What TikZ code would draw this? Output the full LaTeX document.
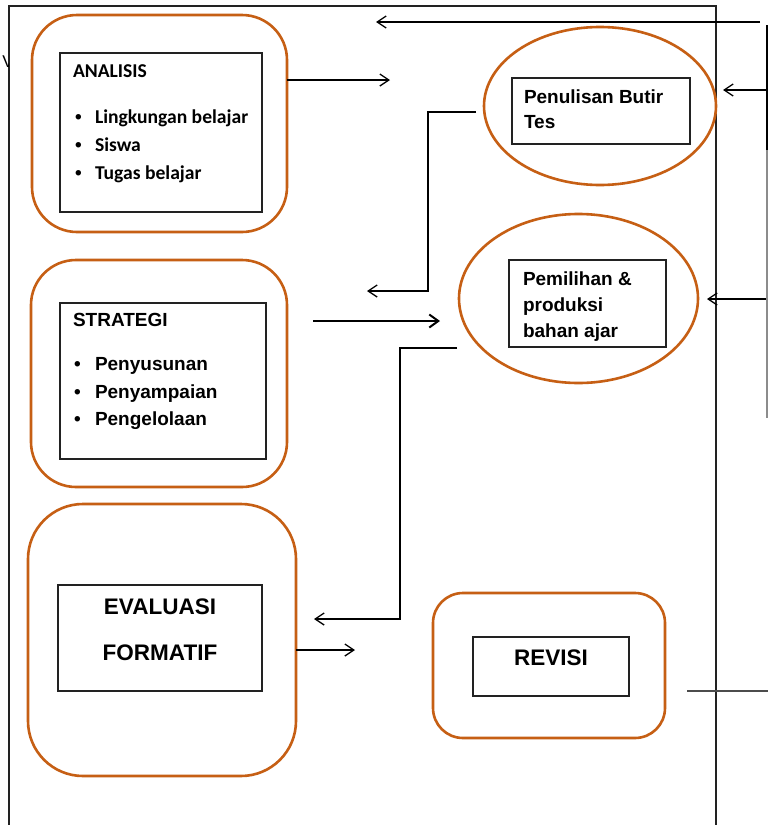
\documentclass[tikz,border=0pt]{standalone}
\usepackage{fontspec}
\setmainfont{Liberation Sans}
\newfontfamily\calib{Carlito}
\usetikzlibrary{arrows.meta,shapes.geometric}
\definecolor{orng}{HTML}{C65F14}
\definecolor{ink}{HTML}{222222}
\tikzset{
  obox/.style={draw=orng, line width=2.6pt, inner sep=0pt, outer sep=0pt},
  oell/.style={ellipse, draw=orng, line width=2.6pt, inner sep=0pt, outer sep=0pt},
  ibox/.style={draw=ink, line width=1.2pt, inner sep=0pt, outer sep=0pt, fill=white},
  frame/.style={draw=ink, line width=1.2pt},
  arr/.style={draw=black, line width=1.3pt, -{Straight Barb[length=9pt,width=12pt]}},
  thickarr/.style={draw=black, line width=2pt, -{Straight Barb[length=9pt,width=13pt]}},
  plain/.style={draw=black, line width=1.3pt},
  txt/.style={inner sep=0pt, outer sep=0pt, anchor=base west, font=\bfseries\fontsize{19}{19}\selectfont},
  ctxt/.style={inner sep=0pt, outer sep=0pt, anchor=base, font=\bfseries\fontsize{22.5}{22.5}\selectfont},
  ctx/.style={inner sep=0pt, outer sep=0pt, anchor=base west, font=\calib\bfseries\fontsize{19.6}{19.6}\selectfont},
}
\begin{document}
\begin{tikzpicture}[x=1pt,y=-1pt]
\useasboundingbox (0,0) rectangle (768,825);
\fill[white] (0,0) rectangle (768,825);

% outer frame
\draw[frame] (9,830) -- (9,6) -- (716,6) -- (716,830);

% stray letter at left edge
\begin{scope}
\clip (0,40) rectangle (8.4,90);
\node[inner sep=0pt, font=\fontsize{17}{17}\selectfont] (vmark) at (8,62) {V};
\end{scope}

% ANALISIS
\node[obox, rounded corners=45pt, minimum width=255pt, minimum height=217pt] (analisisO) at (159.5,123.5) {};
\node[ibox, minimum width=202pt, minimum height=159pt] (analisisI) at (161,132.5) {};
\node[ctx] (t1) at (73,77) {ANALISIS};
\node[txt] (b11) at (75,123) {\textbullet};
\node[ctx] (t11) at (95,123) {Lingkungan belajar};
\node[txt] (b12) at (75,151) {\textbullet};
\node[ctx] (t12) at (95,151) {Siswa};
\node[txt] (b13) at (75,179) {\textbullet};
\node[ctx] (t13) at (95,179) {Tugas belajar};

% STRATEGI
\node[obox, rounded corners=45pt, minimum width=256pt, minimum height=227pt] (strategiO) at (159,373.5) {};
\node[ibox, minimum width=206pt, minimum height=156pt] (strategiI) at (163,381) {};
\node[txt] (t2) at (73,326) {STRATEGI};
\node[txt] (b21) at (74,370) {\textbullet};
\node[txt] (t21) at (95,370) {Penyusunan};
\node[txt] (b22) at (74,398) {\textbullet};
\node[txt] (t22) at (95,398) {Penyampaian};
\node[txt] (b23) at (74,425) {\textbullet};
\node[txt] (t23) at (95,425) {Pengelolaan};

% EVALUASI FORMATIF
\node[obox, rounded corners=55pt, minimum width=268pt, minimum height=272pt] (evalO) at (162,640) {};
\node[ibox, minimum width=204pt, minimum height=106pt] (evalI) at (160,638) {};
\node[ctxt] (t31) at (160,614) {EVALUASI};
\node[ctxt] (t32) at (160,660) {FORMATIF};

% REVISI
\node[obox, rounded corners=30pt, minimum width=232pt, minimum height=145pt] (revisiO) at (549,665.5) {};
\node[ibox, minimum width=156pt, minimum height=59pt] (revisiI) at (551,666.5) {};
\node[ctxt] (t4) at (551,665) {REVISI};

% Penulisan Butir Tes
\node[oell, minimum width=232pt, minimum height=158pt] (penE) at (600,106) {};
\node[ibox, minimum width=178pt, minimum height=66pt] (penI) at (601,111) {};
\node[txt] (t51) at (524,103) {Penulisan Butir};
\node[txt] (t52) at (524,128) {Tes};

% Pemilihan & produksi bahan ajar
\node[oell, minimum width=239pt, minimum height=169pt] (pemE) at (578.5,298.5) {};
\node[ibox, minimum width=157pt, minimum height=87pt] (pemI) at (587.5,303.5) {};
\node[txt] (t61) at (523,285) {Pemilihan \&};
\node[txt] (t62) at (523,311) {produksi};
\node[txt] (t63) at (523,337) {bahan ajar};

% coordinates for free ends
\coordinate (a1e) at (390,80);
\coordinate (s1s) at (313,321);
\coordinate (s1e) at (440,321);
\coordinate (p1s) at (476,112);
\coordinate (p1k) at (428,112);
\coordinate (p1e) at (367,291);
\coordinate (m1s) at (457,348);
\coordinate (m1k) at (400,348);
\coordinate (m1e) at (314,619);
\coordinate (e1e) at (355,650);
\coordinate (top1s) at (760,22);
\coordinate (top1e) at (376,22);
\coordinate (r1s) at (769,90);
\coordinate (r1e) at (723,90);
\coordinate (r2s) at (769,299);
\coordinate (r2e) at (707,299);
\coordinate (vtop) at (767,25);
\coordinate (vmid) at (767,150);
\coordinate (vbot) at (767,418);
\coordinate (h1s) at (687,691);
\coordinate (h1e) at (769,691);

% connectors
\draw[arr] (analisisO.east |- a1e) -- (a1e);
\draw[thickarr] (s1s) -- (s1e);
\draw[arr] (p1s) -- (p1k) |- (p1e);
\draw[arr] (m1s) -- (m1k) |- (m1e);
\draw[arr] (evalO.east |- e1e) -- (e1e);
\draw[arr] (top1s) -- (top1e);
\draw[arr] (r1s) -- (r1e);
\draw[arr] (r2s) -- (r2e);
\draw[plain] (vtop) -- (vmid);
\draw[plain, draw=black!45] (vmid) -- (vbot);
\draw[plain, draw=black!70] (h1s) -- (h1e);
\end{tikzpicture}
\end{document}
